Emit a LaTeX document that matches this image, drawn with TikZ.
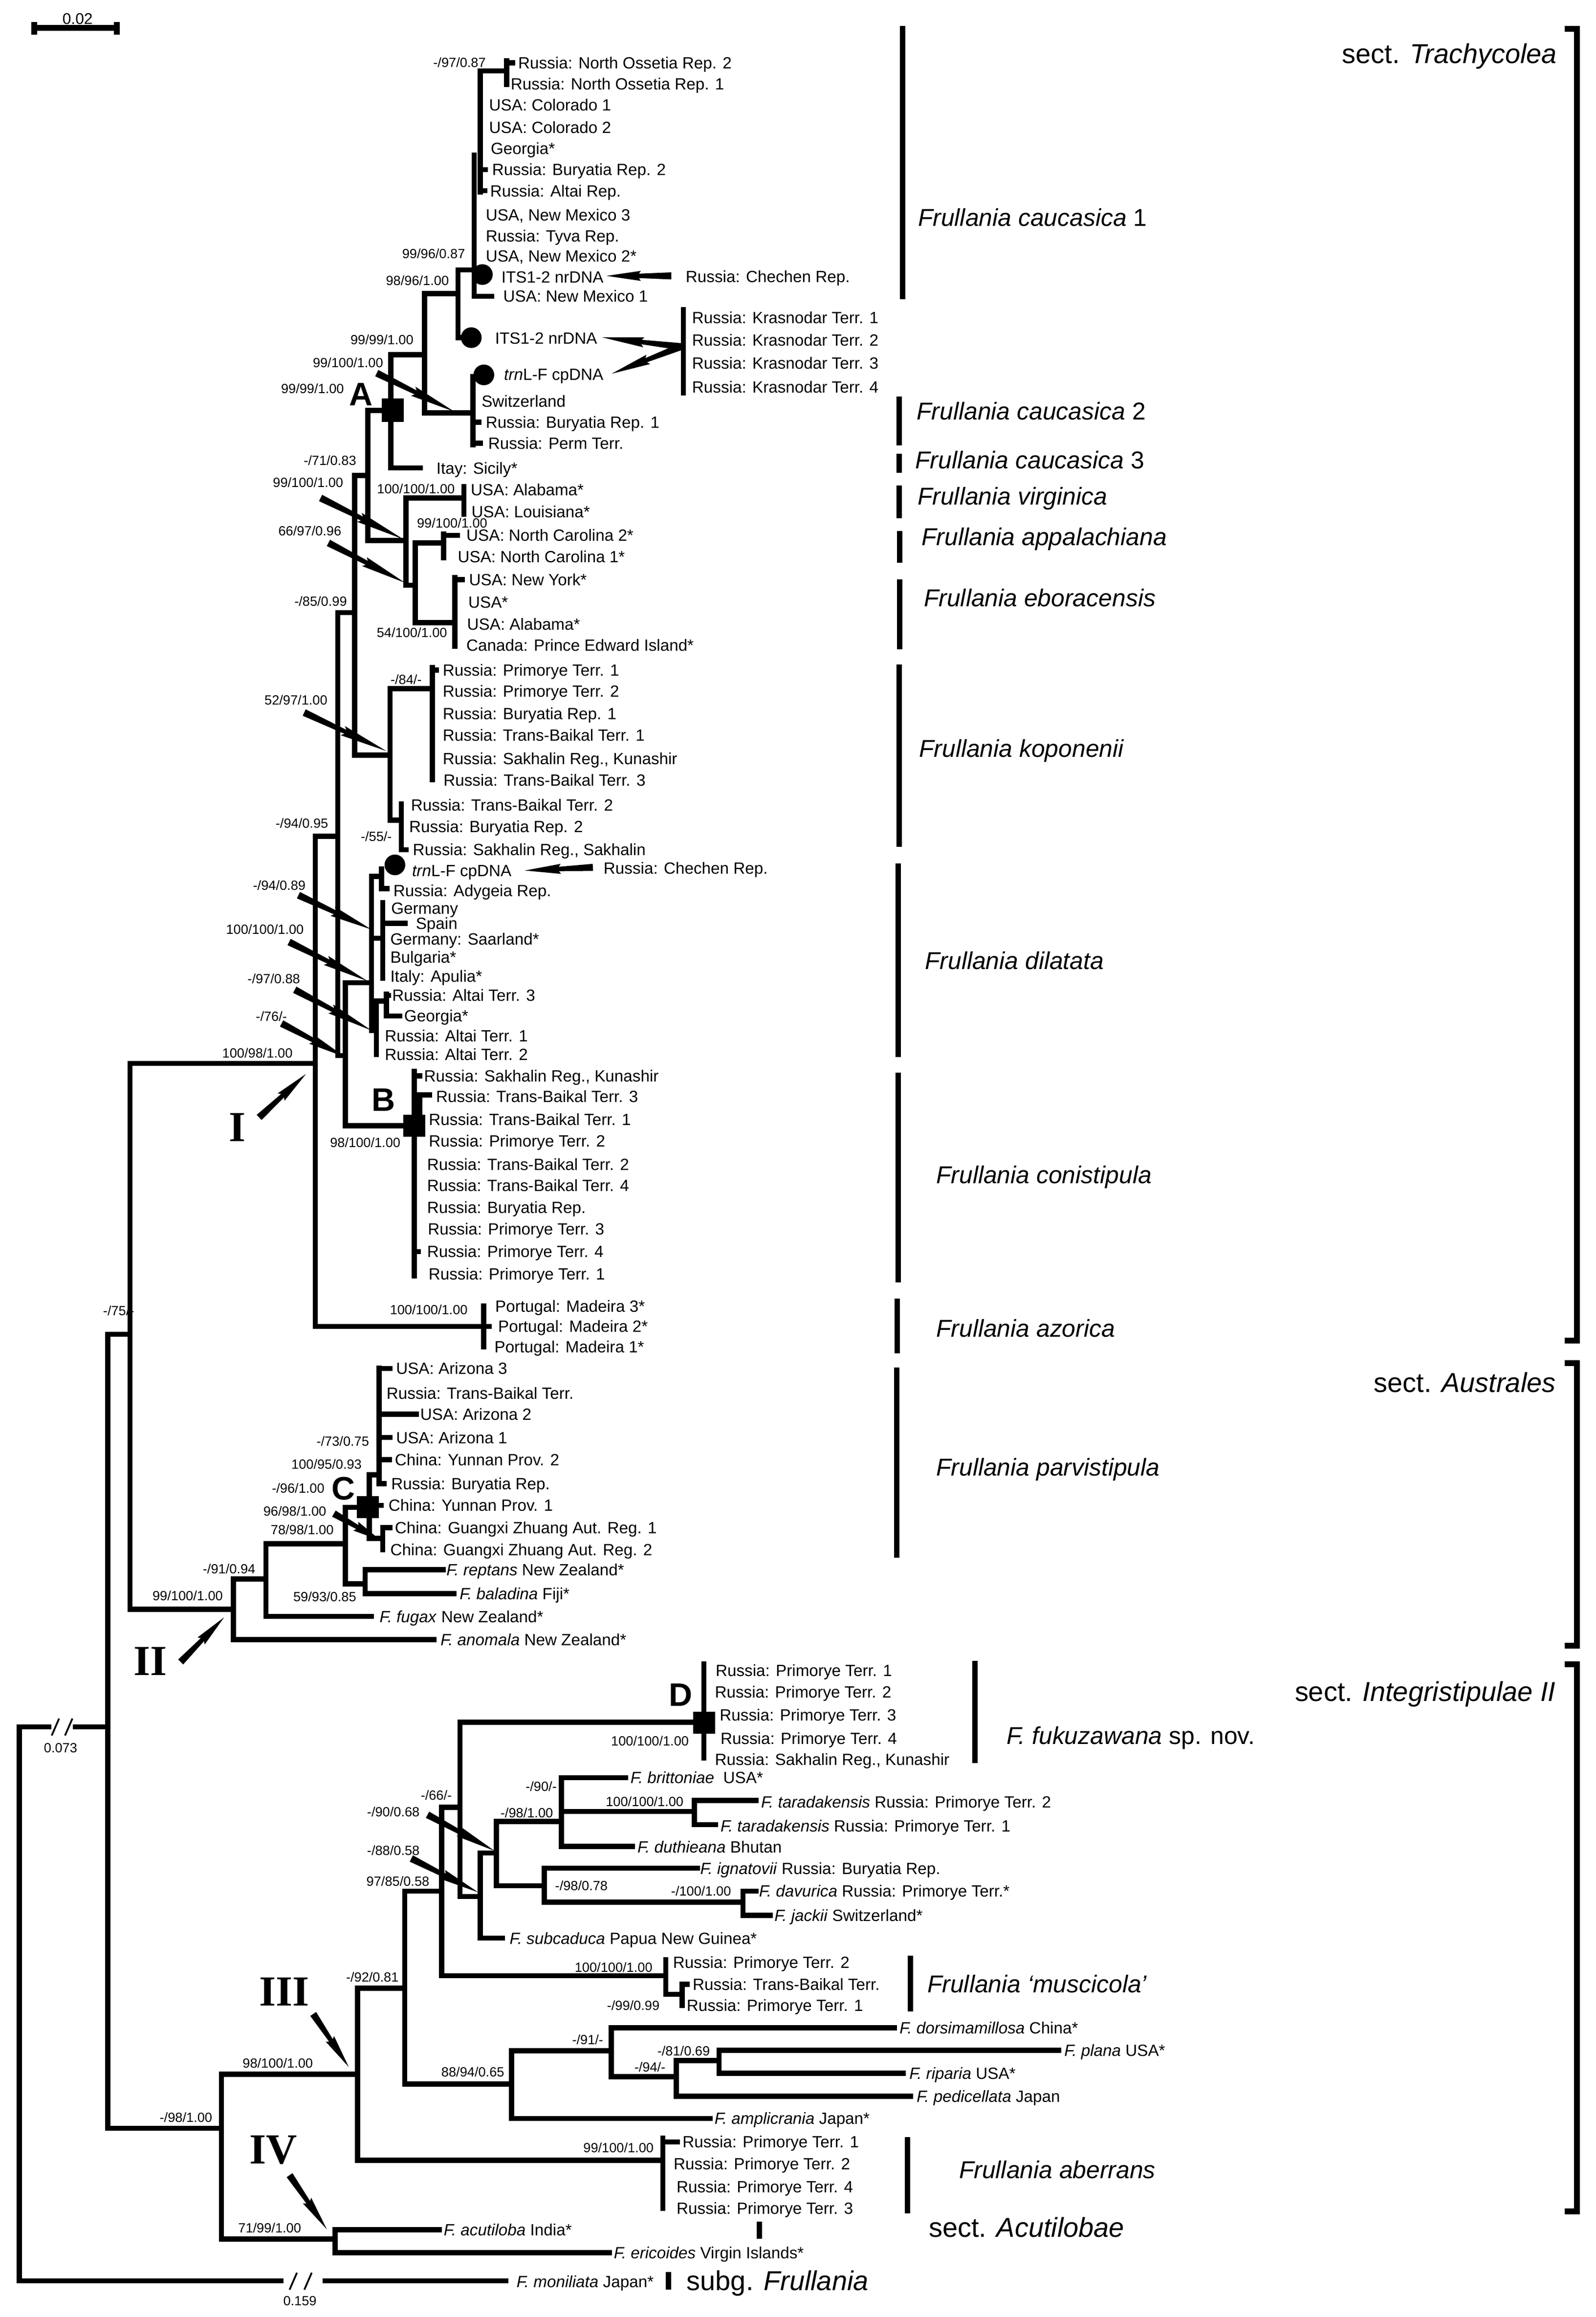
\documentclass[tikz,border=0pt]{standalone}
\usepackage{fontspec}
\setmainfont{Liberation Sans}
\newfontfamily\romanfam{Liberation Serif}
\usetikzlibrary{calc}
\newcommand\lf[3]{\node[leaf] at (#1,#2) {#3};}
\newcommand\bsl[3]{\node[bsv] at (#1,#2) {#3};}
\newcommand\warrow[4]{%
  \fill ($(#1,#2)!2.4pt!90:(#3,#4)$) -- ($(#1,#2)!0.5!(#3,#4)!1.5pt!90:(#3,#4)$) -- ($(#1,#2)!0.47!(#3,#4)!3.4pt!90:(#3,#4)$) -- (#3,#4) -- ($(#1,#2)!0.47!(#3,#4)!3.4pt!-90:(#3,#4)$) -- ($(#1,#2)!0.5!(#3,#4)!1.5pt!-90:(#3,#4)$) -- ($(#1,#2)!2.4pt!-90:(#3,#4)$) -- cycle;}
\begin{document}
\begin{tikzpicture}[x=1pt,y=-1pt,
  br/.style={line width=3.5pt,line cap=rect},
  leaf/.style={anchor=base west,inner sep=0pt,font=\fontsize{11}{12}\selectfont,yshift=-3.95pt},
  bsv/.style={anchor=base east,inner sep=0pt,font=\fontsize{9}{10}\selectfont,yshift=-3.2pt},
  clade/.style={anchor=base west,inner sep=0pt,font=\fontsize{16.5}{18}\selectfont,yshift=-5.9pt},
  sectl/.style={anchor=base east,inner sep=0pt,font=\fontsize{18.5}{20}\selectfont,yshift=-6.6pt},
  bar/.style={line width=3.6pt},
  brk/.style={line width=4pt},
  sq/.style={fill=black,minimum size=15pt,inner sep=0pt,draw=none},
  dot/.style={circle,fill=black,minimum size=14pt,inner sep=0pt},
  lett/.style={font=\fontsize{22}{24}\selectfont\bfseries,inner sep=0pt},
  roman/.style={font=\romanfam\fontsize{29}{30}\selectfont\bfseries,inner sep=0pt},
]
\fill[white] (0,0) rectangle (1080,1568);
\useasboundingbox (0,0) rectangle (1080,1568);

% scale bar
\draw[line width=4pt] (21.3,18.8) -- (81.1,18.8);
\draw[line width=4pt] (23.3,14.8) -- (23.3,23.6);
\draw[line width=4pt] (79.1,14.8) -- (79.1,23.6);
\node[inner sep=0pt,font=\fontsize{10.5}{11}\selectfont] (sb) at (52.5,12.9) {0.02};

% ===== root =====
\draw[br] (13,1168.6) -- (13,1543.5);
\draw[br] (13,1168.6) -- (33,1168.6);
\draw[br] (51,1168.6) -- (73,1168.6);
\draw[line width=1.2pt] (35,1174.5) -- (40,1163);
\draw[line width=1.2pt] (44,1174.5) -- (49,1163);
\node[inner sep=0pt,font=\fontsize{9}{10}\selectfont] (l073) at (41,1183) {0.073};
\draw[br] (13,1543.5) -- (190,1543.5);
\draw[br] (220,1543.5) -- (342.3,1543.5);
\draw[line width=1.2pt] (196,1549.5) -- (201,1538);
\draw[line width=1.2pt] (206,1549.5) -- (211,1538);
\node[inner sep=0pt,font=\fontsize{9}{10}\selectfont] (l159) at (203,1557) {0.159};

% N73 / N88
\draw[br] (73,903) -- (73,1440.3);
\draw[br] (73,903) -- (88,903);
\draw[br] (88,719.7) -- (88,1089);
\draw[br] (88,719.7) -- (213.4,719.7);
\draw[br] (88,1089) -- (158,1089);

% clade I
\draw[br] (213.4,566) -- (213.4,897.6);
\draw[br] (213.4,897.6) -- (327.4,897.6);
\draw[br] (327.4,884) -- (327.4,911.5);
\draw[br] (327.4,897.6) -- (331,897.6);
\draw[br] (213.4,566) -- (228.6,566);
\draw[br] (228.6,414.6) -- (228.6,714.4);
\draw[br] (228.6,414.6) -- (240,414.6);
\draw[br] (228.6,714.4) -- (233.7,714.4);
\draw[br] (240,321.8) -- (240,511);
\draw[br] (240,321.8) -- (248.9,321.8);
\draw[br] (240,511) -- (264,511);
\draw[br] (248.9,277.7) -- (248.9,365.7);
\draw[br] (248.9,277.7) -- (264.5,277.7);
\draw[br] (248.9,365.7) -- (274.8,365.7);
% node A
\draw[br] (264.5,240) -- (264.5,316.7);
\draw[br] (264.5,316.7) -- (284.4,316.7);
\draw[br] (264.5,240) -- (287.3,240);
\draw[br] (287.3,198.7) -- (287.3,279.5);
\draw[br] (287.3,198.7) -- (310,198.7);
\draw[br] (287.3,279.5) -- (320.2,279.5);
\draw[br] (310,182.6) -- (310,228.5);
\draw[br] (310,228.5) -- (316,228.5);
\draw[br] (310,182.6) -- (321,182.6);
\draw[br] (321,105) -- (321,200.5);
\draw[br] (325,48) -- (325,130);
\draw[br] (321,200.5) -- (332.9,200.5);
\draw[br] (325,48) -- (343,48);
\draw[br] (343,41) -- (343,57);
\draw[br] (343,42.6) -- (347,42.6);
\draw[br] (325,114.8) -- (328.5,114.8);
\draw[br] (325,129.1) -- (328,129.1);
\draw[br] (320.2,255) -- (320.2,301);
\draw[br] (320.2,285.7) -- (324,285.7);
\draw[br] (320.2,300) -- (325,300);
\draw[br] (462.5,209.5) -- (462.5,266);
% virginica / appalachiana / eboracensis
\draw[br] (274.8,337) -- (274.8,396);
\draw[br] (274.8,337) -- (314,337);
\draw[br] (314,329.4) -- (314,348);
\draw[br] (274.8,396) -- (281,396);
\draw[br] (281,367.4) -- (281,421.4);
\draw[br] (281,367.4) -- (300.3,367.4);
\draw[br] (300.3,361.5) -- (300.3,377.5);
\draw[br] (300.3,362.3) -- (309.7,362.3);
\draw[br] (281,421.4) -- (307.9,421.4);
\draw[br] (307.9,391) -- (307.9,437.4);
\draw[br] (307.9,392.2) -- (313,392.2);
% koponenii
\draw[br] (264,466) -- (264,555);
\draw[br] (264,466) -- (292.7,466);
\draw[br] (292.7,451.8) -- (292.7,527.7);
\draw[br] (292.7,453.5) -- (295.5,453.5);
\draw[br] (264,555) -- (271.7,555);
\draw[br] (271.7,544) -- (271.7,575);
\draw[br] (271.7,575) -- (275,575);
% dilatata
\draw[br] (233.7,665) -- (233.7,761.9);
\draw[br] (233.7,665) -- (251.4,665);
\draw[br] (251.4,593) -- (251.4,697.3);
\draw[br] (251.4,593) -- (258.2,593);
\draw[br] (258.2,588) -- (258.2,601.4);
\draw[br] (258.2,601.4) -- (262,601.4);
\draw[br] (251.4,635) -- (259,635);
\draw[br] (259,611) -- (259,662);
\draw[br] (259,624.8) -- (274.2,624.8);
\draw[br] (251.4,697.3) -- (254.7,697.3);
\draw[br] (254.7,677.4) -- (254.7,713.5);
\draw[br] (254.7,677.4) -- (261.5,677.4);
\draw[br] (261.5,672.6) -- (261.5,687.5);
\draw[br] (261.5,673.6) -- (263,673.6);
\draw[br] (261.5,687.5) -- (270.4,687.5);
% conistipula
\draw[br] (233.7,761.9) -- (279.3,761.9);
\draw[br] (280.5,725) -- (280.5,863.6);
\draw[br] (280.5,728.1) -- (284,728.1);
\draw[br] (284,741) -- (284,755);
\draw[br] (284,741) -- (290.6,741);
\draw[br] (280.5,847) -- (283,847);

% clade II
\draw[br] (158,1068.5) -- (158,1109.6);
\draw[br] (158,1109.6) -- (293.8,1109.6);
\draw[br] (158,1068.5) -- (180,1068.5);
\draw[br] (180,1044.8) -- (180,1093.9);
\draw[br] (180,1093.9) -- (251.3,1093.9);
\draw[br] (180,1044.8) -- (233.7,1044.8);
\draw[br] (233.7,1020) -- (233.7,1071.8);
\draw[br] (233.7,1071.8) -- (247.2,1071.8);
\draw[br] (247.2,1062.3) -- (247.2,1078.5);
\draw[br] (247.2,1062.3) -- (300,1062.3);
\draw[br] (247.2,1078.5) -- (307.3,1078.5);
\draw[br] (233.7,1020) -- (245,1020);
\draw[br] (250,998) -- (250,1041);
\draw[br] (250,998) -- (256.5,998);
\draw[br] (256.5,926) -- (256.5,1004);
\draw[br] (256.5,926.1) -- (264,926.1);
\draw[br] (256.5,957) -- (281.8,957);
\draw[br] (256.5,972.8) -- (264,972.8);
\draw[br] (256.5,987.9) -- (263.5,987.9);
\draw[br] (256.5,1004) -- (260,1004);
\draw[br] (250,1018.7) -- (258,1018.7);
\draw[br] (250,1041) -- (259,1041);
\draw[br] (259,1033.8) -- (259,1048.8);
\draw[br] (259,1033.8) -- (264,1033.8);

% lower clades
\draw[br] (73,1440.3) -- (149.9,1440.3);
\draw[br] (149.9,1403.7) -- (149.9,1515.2);
\draw[br] (149.9,1515.2) -- (226.8,1515.2);
\draw[br] (226.8,1509) -- (226.8,1524.4);
\draw[br] (226.8,1509) -- (297.4,1509);
\draw[br] (226.8,1524.4) -- (412.5,1524.4);
\draw[br] (149.9,1403.7) -- (242,1403.7);
\draw[br] (242,1345.4) -- (242,1462);
\draw[br] (242,1462) -- (448.6,1462);
\draw[br] (448.6,1447) -- (448.6,1494.4);
\draw[br] (448.6,1449.5) -- (458.6,1449.5);
\draw[br] (242,1345.4) -- (274,1345.4);
\draw[br] (274,1279.8) -- (274,1410.3);
\draw[br] (274,1410.3) -- (346.3,1410.3);
\draw[br] (346.3,1387.9) -- (346.3,1433.6);
\draw[br] (346.3,1433.6) -- (480.7,1433.6);
\draw[br] (346.3,1387.9) -- (413.7,1387.9);
\draw[br] (413.7,1372.3) -- (413.7,1405.3);
\draw[br] (413.7,1372.3) -- (605.4,1372.3);
\draw[br] (413.7,1405.3) -- (457.8,1405.3);
\draw[br] (457.8,1394.5) -- (457.8,1418.5);
\draw[br] (457.8,1418.5) -- (616.3,1418.5);
\draw[br] (457.8,1394.5) -- (486.7,1394.5);
\draw[br] (486.7,1387.4) -- (486.7,1403.1);
\draw[br] (486.7,1387.4) -- (716.6,1387.4);
\draw[br] (486.7,1403.1) -- (611.3,1403.1);
\draw[br] (274,1279.8) -- (299,1279.8);
\draw[br] (299,1223) -- (299,1337);
\draw[br] (299,1337) -- (450.6,1337);
\draw[br] (450.6,1326.2) -- (450.6,1349.6);
\draw[br] (450.6,1349.6) -- (461.8,1349.6);
\draw[br] (461.8,1342.9) -- (461.8,1357.1);
\draw[br] (461.8,1342.9) -- (465,1342.9);
\draw[br] (299,1223) -- (311.3,1223);
\draw[br] (311.3,1165.4) -- (311.3,1283.5);
\draw[br] (311.3,1165.4) -- (476.5,1165.4);
\draw[br] (476.5,1126.2) -- (476.5,1189.7);
\draw[br] (311.3,1283.5) -- (325,1283.5);
\draw[br] (325,1254) -- (325,1311.6);
\draw[br] (325,1311.6) -- (340.2,1311.6);
\draw[br] (325,1254) -- (336,1254);
\draw[br] (336,1232.6) -- (336,1276.1);
\draw[br] (336,1276.1) -- (368.4,1276.1);
\draw[br] (368.4,1264.3) -- (368.4,1287.2);
\draw[br] (368.4,1264.3) -- (471.9,1264.3);
\draw[br] (368.4,1287.2) -- (502.9,1287.2);
\draw[br] (502.9,1279.8) -- (502.9,1296.1);
\draw[br] (502.9,1279.8) -- (511.7,1279.8);
\draw[br] (502.9,1296.1) -- (521.3,1296.1);
\draw[br] (336,1232.6) -- (380,1232.6);
\draw[br] (380,1203) -- (380,1249.5);
\draw[br] (380,1203) -- (423.3,1203);
\draw[br] (380,1225.9) -- (470,1225.9);
\draw[br] (470,1218.5) -- (470,1234.8);
\draw[br] (470,1218.5) -- (511.7,1218.5);
\draw[br] (470,1234.8) -- (484.2,1234.8);
\draw[br] (380,1249.5) -- (428,1249.5);

% ===== markers =====
\node[dot] (d1) at (326.5,185.8) {};
\node[dot] (d2) at (319,228.5) {};
\node[dot] (d3) at (327.5,253.7) {};
\node[dot] (d4) at (267.3,585.3) {};
\node[sq,minimum height=16pt] (sqA) at (265.8,277.7) {};
\node[sq] (sqB) at (280.5,761.9) {};
\node[sq] (sqC) at (248.9,1019.9) {};
\node[sq] (sqD) at (476.7,1165.8) {};
\node[lett] (lA) at (244.3,266.9) {A};
\node[lett] (lB) at (259.6,744.4) {B};
\node[lett] (lC) at (232.5,1007.2) {C};
\node[lett] (lD) at (460.9,1147) {D};
\node[roman] (rI) at (160.5,762.8) {I};
\node[roman] (rII) at (101.7,1124.3) {II};
\node[roman] (rIII) at (192.4,1348) {III};
\node[roman] (rIV) at (185,1455) {IV};

% ===== arrows =====
\warrow{255}{252.5}{307.6}{278.6}
\warrow{217}{337}{273}{364.9}
\warrow{222.3}{367.4}{274.2}{394.4}
\warrow{205.9}{482.2}{261.6}{508.3}
\warrow{202}{605.8}{251.4}{629}
\warrow{195.7}{637.5}{248.9}{664}
\warrow{199.5}{669.8}{251.4}{697.3}
\warrow{190.6}{692.6}{233.7}{715.4}
\warrow{175.4}{756.2}{207.1}{726.8}
\warrow{226}{1024.3}{257.7}{1042.5}
\warrow{122.3}{1124.7}{151.7}{1094.5}
\warrow{289.4}{1228.1}{334.7}{1252.5}
\warrow{278.4}{1257.7}{323.7}{1280.6}
\warrow{212}{1362.9}{236}{1398.7}
\warrow{196}{1472}{221.2}{1508.6}
\warrow{454.4}{186.7}{410.5}{186.7}
\warrow{460.8}{234.6}{407.6}{228.3}
\warrow{460.8}{234.6}{414}{252.9}
\warrow{401.3}{587}{355.2}{589.1}

% ===== support values =====
\bsl{329}{42.3}{-/97/0.87}
\bsl{315}{171.8}{99/96/0.87}
\bsl{304}{190}{98/96/1.00}
\bsl{280}{230}{99/99/1.00}
\bsl{259.5}{245.4}{99/100/1.00}
\bsl{233}{263}{99/99/1.00}
\bsl{241.3}{311.7}{-/71/0.83}
\bsl{232.5}{326.5}{99/100/1.00}
\bsl{308}{330.8}{100/100/1.00}
\bsl{330}{354}{99/100/1.00}
\bsl{231.2}{359.3}{66/97/0.96}
\bsl{235}{407}{-/85/0.99}
\bsl{302.8}{428.2}{54/100/1.00}
\bsl{285.6}{460}{-/84/-}
\bsl{221.8}{473.7}{52/97/1.00}
\bsl{222.3}{557}{-/94/0.95}
\bsl{265.4}{566}{-/55/-}
\bsl{207}{599}{-/94/0.89}
\bsl{205.8}{629}{100/100/1.00}
\bsl{203.3}{662.2}{-/97/0.88}
\bsl{194.4}{687.8}{-/76/-}
\bsl{198.2}{712.5}{100/98/1.00}
\bsl{271.2}{773.3}{98/100/1.00}
\bsl{316.7}{886.5}{100/100/1.00}
\bsl{91}{887}{-/75/-}
\bsl{250}{975.2}{-/73/0.75}
\bsl{245}{991}{100/95/0.93}
\bsl{219.8}{1007}{-/96/1.00}
\bsl{221}{1022.7}{96/98/1.00}
\bsl{226}{1035.3}{78/98/1.00}
\bsl{241.3}{1080.5}{59/93/0.85}
\bsl{173}{1061.6}{-/91/0.94}
\bsl{151}{1080}{99/100/1.00}
\bsl{466.4}{1178}{100/100/1.00}
\bsl{306}{1214.8}{-/66/-}
\bsl{377}{1209}{-/90/-}
\bsl{462.8}{1219.3}{100/100/1.00}
\bsl{374.5}{1226.7}{-/98/1.00}
\bsl{284.2}{1226.3}{-/90/0.68}
\bsl{284.2}{1252.3}{-/88/0.58}
\bsl{290.8}{1273.2}{97/85/0.58}
\bsl{411.5}{1276}{-/98/0.78}
\bsl{495}{1279.8}{-/100/1.00}
\bsl{441.8}{1331.2}{100/100/1.00}
\bsl{270}{1338}{-/92/0.81}
\bsl{446.6}{1357}{-/99/0.99}
\bsl{408.5}{1380.4}{-/91/-}
\bsl{480.7}{1388}{-/81/0.69}
\bsl{212}{1396.2}{98/100/1.00}
\bsl{450.6}{1398.7}{-/94/-}
\bsl{341.5}{1402}{88/94/0.65}
\bsl{143.8}{1432.8}{-/98/1.00}
\bsl{442.6}{1453.6}{99/100/1.00}
\bsl{204}{1507.7}{71/99/1.00}

% ===== leaf labels =====
\lf{350.6}{42.6}{Russia: North Ossetia Rep. 2}
\lf{345.5}{56.9}{Russia: North Ossetia Rep. 1}
\lf{330.9}{71}{USA: Colorado 1}
\lf{330.9}{86.2}{USA: Colorado 2}
\lf{332}{100.6}{Georgia*}
\lf{332.9}{114.8}{Russia: Buryatia Rep. 2}
\lf{331.6}{129.1}{Russia: Altai Rep.}
\lf{328.6}{145.3}{USA, New Mexico 3}
\lf{328.6}{159.6}{Russia: Tyva Rep.}
\lf{328.6}{173.3}{USA, New Mexico 2*}
\lf{339.2}{187.3}{ITS1-2 nrDNA}
\lf{464}{187}{Russia: Chechen Rep.}
\lf{340.5}{200.5}{USA: New Mexico 1}
\lf{468.3}{214.9}{Russia: Krasnodar Terr. 1}
\lf{468.3}{230.1}{Russia: Krasnodar Terr. 2}
\lf{468.3}{245.7}{Russia: Krasnodar Terr. 3}
\lf{468.3}{261.9}{Russia: Krasnodar Terr. 4}
\lf{334.9}{228.9}{ITS1-2 nrDNA}
\lf{341}{253.2}{\textit{trn}L-F cpDNA}
\lf{325.8}{271.4}{Switzerland}
\lf{328.6}{285.7}{Russia: Buryatia Rep. 1}
\lf{330.3}{300}{Russia: Perm Terr.}
\lf{295.2}{316.7}{Itay: Sicily*}
\lf{318.5}{331.4}{USA: Alabama*}
\lf{319}{346.3}{USA: Louisiana*}
\lf{315.5}{362.3}{USA: North Carolina 2*}
\lf{309.7}{376.7}{USA: North Carolina 1*}
\lf{317.3}{392.2}{USA: New York*}
\lf{316.8}{407.6}{USA*}
\lf{316}{422.3}{USA: Alabama*}
\lf{315.5}{436.6}{Canada: Prince Edward Island*}
\lf{299.5}{453.5}{Russia: Primorye Terr. 1}
\lf{299.5}{467.8}{Russia: Primorye Terr. 2}
\lf{299.5}{483}{Russia: Buryatia Rep. 1}
\lf{299.5}{497.4}{Russia: Trans-Baikal Terr. 1}
\lf{299.5}{513.4}{Russia: Sakhalin Reg., Kunashir}
\lf{300}{528}{Russia: Trans-Baikal Terr. 3}
\lf{278}{544.7}{Russia: Trans-Baikal Terr. 2}
\lf{276.8}{559.4}{Russia: Buryatia Rep. 2}
\lf{279.3}{575}{Russia: Sakhalin Reg., Sakhalin}
\lf{278.8}{589}{\textit{trn}L-F cpDNA}
\lf{408.4}{587.5}{Russia: Chechen Rep.}
\lf{266.1}{602.8}{Russia: Adygeia Rep.}
\lf{264.6}{614.7}{Germany}
\lf{281.3}{624.8}{Spain}
\lf{264}{635.6}{Germany: Saarland*}
\lf{264}{647.6}{Bulgaria*}
\lf{264}{660.7}{Italy: Apulia*}
\lf{265.3}{673.6}{Russia: Altai Terr. 3}
\lf{273.4}{687.5}{Georgia*}
\lf{260.3}{701.1}{Russia: Altai Terr. 1}
\lf{260.3}{713.5}{Russia: Altai Terr. 2}
\lf{286.9}{728.1}{Russia: Sakhalin Reg., Kunashir}
\lf{295}{742}{Russia: Trans-Baikal Terr. 3}
\lf{290.1}{757.7}{Russia: Trans-Baikal Terr. 1}
\lf{290.1}{772}{Russia: Primorye Terr. 2}
\lf{288.9}{787.9}{Russia: Trans-Baikal Terr. 2}
\lf{288.9}{802.2}{Russia: Trans-Baikal Terr. 4}
\lf{288.9}{817}{Russia: Buryatia Rep.}
\lf{289.4}{831.8}{Russia: Primorye Terr. 3}
\lf{288.9}{847}{Russia: Primorye Terr. 4}
\lf{289.9}{862}{Russia: Primorye Terr. 1}
\lf{335}{884}{Portugal: Madeira 3*}
\lf{337}{897.6}{Portugal: Madeira 2*}
\lf{334.5}{911.5}{Portugal: Madeira 1*}
\lf{267.9}{926.1}{USA: Arizona 3}
\lf{261.5}{942.7}{Russia: Trans-Baikal Terr.}
\lf{284.3}{957}{USA: Arizona 2}
\lf{267.9}{972.8}{USA: Arizona 1}
\lf{267.1}{987.9}{China: Yunnan Prov. 2}
\lf{264.6}{1004}{Russia: Buryatia Rep.}
\lf{262.8}{1018.7}{China: Yunnan Prov. 1}
\lf{267.1}{1033.8}{China: Guangxi Zhuang Aut. Reg. 1}
\lf{264}{1048.8}{China: Guangxi Zhuang Aut. Reg. 2}
\lf{302}{1062.3}{\textit{F. reptans} New Zealand*}
\lf{310.9}{1078.5}{\textit{F. baladina} Fiji*}
\lf{256.8}{1093.9}{\textit{F. fugax} New Zealand*}
\lf{298}{1109.6}{\textit{F. anomala} New Zealand*}
\lf{484.2}{1130.4}{Russia: Primorye Terr. 1}
\lf{483.7}{1145.1}{Russia: Primorye Terr. 2}
\lf{487}{1160.5}{Russia: Primorye Terr. 3}
\lf{487.5}{1176.4}{Russia: Primorye Terr. 4}
\lf{483.7}{1190.5}{Russia: Sakhalin Reg., Kunashir}
\lf{426.6}{1203}{\textit{F. brittoniae}~~USA*}
\lf{515}{1219.5}{\textit{F. taradakensis} Russia: Primorye Terr. 2}
\lf{487.5}{1235.5}{\textit{F. taradakensis} Russia: Primorye Terr. 1}
\lf{431.3}{1250}{\textit{F. duthieana} Bhutan}
\lf{473.8}{1264.3}{\textit{F. ignatovii} Russia: Buryatia Rep.}
\lf{513.6}{1279.8}{\textit{F. davurica} Russia: Primorye Terr.*}
\lf{524}{1296.1}{\textit{F. jackii} Switzerland*}
\lf{344.8}{1311.6}{\textit{F. subcaduca} Papua New Guinea*}
\lf{455.4}{1327.9}{Russia: Primorye Terr. 2}
\lf{468.7}{1342.9}{Russia: Trans-Baikal Terr.}
\lf{464.6}{1357.1}{Russia: Primorye Terr. 1}
\lf{608.7}{1372.3}{\textit{F. dorsimamillosa} China*}
\lf{720.2}{1387.4}{\textit{F. plana} USA*}
\lf{615.3}{1403.1}{\textit{F. riparia} USA*}
\lf{620.3}{1418.5}{\textit{F. pedicellata} Japan}
\lf{483.5}{1433.6}{\textit{F. amplicrania} Japan*}
\lf{461.8}{1449.5}{Russia: Primorye Terr. 1}
\lf{455.8}{1464.4}{Russia: Primorye Terr. 2}
\lf{457.8}{1479.8}{Russia: Primorye Terr. 4}
\lf{457.8}{1494.4}{Russia: Primorye Terr. 3}
\lf{300.2}{1509}{\textit{F. acutiloba} India*}
\lf{415.3}{1524.4}{\textit{F. ericoides} Virgin Islands*}
\lf{349.5}{1544}{\textit{F. moniliata} Japan*}

% ===== clade bars and names =====
\draw[bar] (611,17.4) -- (611,202.6);
\node[clade] (c1) at (621.2,147.2) {\textit{Frullania caucasica} 1};
\draw[bar] (608.7,268.5) -- (608.7,301.4);
\node[clade] (c2) at (620.3,278) {\textit{Frullania caucasica} 2};
\draw[bar] (608.7,307.1) -- (608.7,319.8);
\node[clade] (c3) at (619.3,311.2) {\textit{Frullania caucasica} 3};
\draw[bar] (608.7,328.6) -- (608.7,350.8);
\node[clade] (c4) at (620.9,335.6) {\textit{Frullania virginica}};
\draw[bar] (609,359.3) -- (609,380.9);
\node[clade] (c5) at (623.6,363.1) {\textit{Frullania appalachiana}};
\draw[bar] (609,392) -- (609,439.4);
\node[clade] (c6) at (625.2,404.6) {\textit{Frullania eboracensis}};
\draw[bar] (608.7,449.6) -- (608.7,572.9);
\node[clade] (c7) at (621.9,506.4) {\textit{Frullania koponenii}};
\draw[bar] (608,584.3) -- (608,715.3);
\node[clade] (c8) at (625.9,650) {\textit{Frullania dilatata}};
\draw[bar] (608,726) -- (608,868);
\node[clade] (c9) at (633.5,795.1) {\textit{Frullania conistipula}};
\draw[bar] (607.4,878.7) -- (607.4,915.9);
\node[clade] (c10) at (633.5,898.8) {\textit{Frullania azorica}};
\draw[bar] (607,925.4) -- (607,1054.2);
\node[clade] (c11) at (633.5,992.7) {\textit{Frullania parvistipula}};
\draw[bar] (659.9,1124) -- (659.9,1193.2);
\node[clade] (c12) at (681.3,1174.4) {\textit{F. fukuzawana} sp. nov.};
\draw[bar] (616.3,1323.6) -- (616.3,1361.3);
\node[clade] (c13) at (627.5,1342.5) {\textit{Frullania ‘muscicola’}};
\draw[bar] (614.3,1446.2) -- (614.3,1498);
\node[clade] (c14) at (649,1468.2) {\textit{Frullania aberrans}};
\draw[bar] (514,1503.6) -- (514,1515.2);
\node[clade,font=\fontsize{18.5}{20}\selectfont,yshift=-0.7pt] (c15) at (628.5,1507.4) {sect. \textit{Acutilobae}};
\draw[bar] (452.6,1537.7) -- (452.6,1549.4);
\node[clade,font=\fontsize{18.5}{20}\selectfont,yshift=-0.7pt] (c16) at (464.6,1543.5) {subg. \textit{Frullania}};

% ===== section brackets =====
\draw[brk] (1059,19.6) -- (1067.4,19.6) -- (1067.4,907.2) -- (1059,907.2);
\node[sectl] (s1) at (1054,36.4) {sect. \textit{Trachycolea}};
\draw[brk] (1059,922.4) -- (1067.4,922.4) -- (1067.4,1113.7) -- (1059,1113.7);
\node[sectl] (s2) at (1053.2,935.7) {sect. \textit{Australes}};
\draw[brk] (1059,1126.3) -- (1067.4,1126.3) -- (1067.4,1496.4) -- (1059,1496.4);
\node[sectl] (s3) at (1053.2,1144.5) {sect. \textit{Integristipulae II}};
\end{tikzpicture}
\end{document}
